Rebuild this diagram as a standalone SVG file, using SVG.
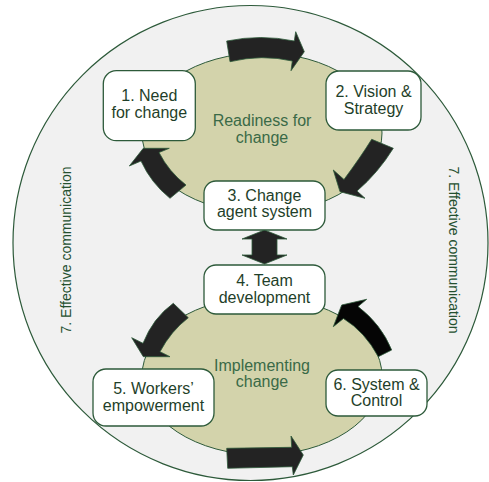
<svg xmlns="http://www.w3.org/2000/svg" width="489" height="482" viewBox="0 0 489 482">
  <style>
    .outer { fill: #f1f1f1; stroke: #2d5a3a; stroke-width: 1.2; }
    .phase { fill: #d3d3ab; stroke: #2d5a3a; stroke-width: 1; }
    .box { fill: #ffffff; stroke: #2d5a3a; stroke-width: 1.3; }
    .arrow { fill: #232323; stroke: #2d5a3a; stroke-width: 0.8; stroke-linejoin: miter; }
    .arrow.dark { fill: #050505; }
    .lbl { font-family: "Liberation Sans", Arial, sans-serif; font-size: 16px; fill: #1f3f2a; text-anchor: middle; }
    .phase-lbl { font-family: "Liberation Sans", Arial, sans-serif; font-size: 16px; fill: #3a6a47; text-anchor: middle; }
    .side { font-family: "Liberation Sans", Arial, sans-serif; font-size: 14px; fill: #24502f; text-anchor: middle; }
  </style>

  <!-- communication ring and the two phases -->
  <g id="background">
    <circle class="outer" cx="250.5" cy="243" r="237.5"/>
    <ellipse class="phase" cx="262" cy="133" rx="120" ry="80"/>
    <ellipse class="phase" cx="262" cy="376" rx="120" ry="79"/>
  </g>

  <g id="labels">
    <text class="phase-lbl" x="262" y="126">Readiness for</text>
    <text class="phase-lbl" x="262" y="142.5">change</text>
    <text class="phase-lbl" x="262" y="371">Implementing</text>
    <text class="phase-lbl" x="262" y="387">change</text>
    <text class="side" transform="translate(70.5,250) rotate(-90)">7. Effective communication</text>
    <text class="side" transform="translate(448.5,250) rotate(90)">7. Effective communication</text>
  </g>

  <g id="connectors">
    <!-- 1 -> 2 -->
    <path class="arrow" d="M226.7,41 Q261,34 294.3,41 L295.7,31.7 L304.3,51.7 L291,70.7 L292.3,61 Q262,54 230,61.7 Z"/>
    <!-- 2 -> 3 -->
    <path class="arrow" d="M371.7,139.3 L393.3,148.3 Q378,173 357,191 L365,198.3 L340,191.7 L333.3,170 L344,179.5 Q360,158 371.7,139.3 Z"/>
    <!-- 3 -> 1 -->
    <path class="arrow" d="M186,185 L170,198.3 Q151,183 141,161 L129.3,166 L143.3,148.3 L169.3,148.3 L159,152.5 Q169,172 186,185 Z"/>
    <!-- 3 <-> 4 -->
    <path class="arrow" d="M264.5,230 L287,239 L277,239 L277,255 L287,255 L264.5,264 L242,255 L252,255 L252,239 L242,239 Z"/>
    <!-- 4 -> 5 -->
    <path class="arrow" d="M173.3,303.3 L188.3,317.7 Q171,331 160,351.7 L170,356.7 L143.3,356.7 L131.7,337.7 L143,343.3 Q153,318 173.3,303.3 Z"/>
    <!-- 5 -> 6 -->
    <path class="arrow" d="M226.7,448.3 L291.7,447.3 L291,436 L303.3,455 L293.3,475 L292.3,466.7 L227.7,468.3 Z"/>
    <!-- 6 -> 4 -->
    <path class="arrow dark" d="M391.7,350 L378.3,356.7 Q365,332 343.5,318.5 L333.3,326.7 L341.7,305 L366.7,299.3 L358,306.5 Q381,324 391.7,350 Z"/>
  </g>

  <g id="n1">
    <rect class="box" x="103.3" y="70.7" width="92" height="70" rx="13"/>
    <text class="lbl" x="149.3" y="101">1. Need</text>
    <text class="lbl" x="149.3" y="117.5">for change</text>
  </g>
  <g id="n2">
    <rect class="box" x="326" y="71" width="95" height="59" rx="13"/>
    <text class="lbl" x="373.5" y="97">2. Vision &amp;</text>
    <text class="lbl" x="373.5" y="113.5">Strategy</text>
  </g>
  <g id="n3">
    <rect class="box" x="204" y="181" width="121" height="49" rx="12"/>
    <text class="lbl" x="264.5" y="201">3. Change</text>
    <text class="lbl" x="264.5" y="217">agent system</text>
  </g>
  <g id="n4">
    <rect class="box" x="204" y="265" width="121" height="49" rx="12"/>
    <text class="lbl" x="264.5" y="286">4. Team</text>
    <text class="lbl" x="264.5" y="302.5">development</text>
  </g>
  <g id="n5">
    <rect class="box" x="93" y="369" width="121" height="57" rx="13"/>
    <text class="lbl" x="153.5" y="394">5. Workers’</text>
    <text class="lbl" x="153.5" y="410.5">empowerment</text>
  </g>
  <g id="n6">
    <rect class="box" x="326" y="370" width="101" height="46" rx="12"/>
    <text class="lbl" x="376.5" y="389.5">6. System &amp;</text>
    <text class="lbl" x="376.5" y="406">Control</text>
  </g>
</svg>
